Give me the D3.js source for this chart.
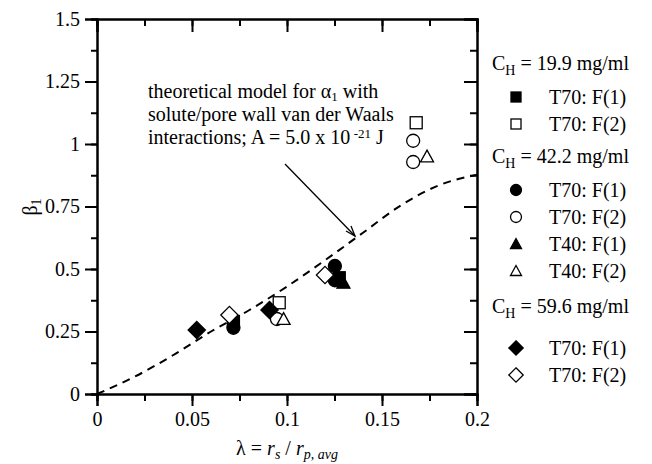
<!DOCTYPE html>
<html><head><meta charset="utf-8">
<script src="https://cdn.jsdelivr.net/npm/d3@7/dist/d3.min.js"></script>
<style>body{margin:0;background:#fff}svg{display:block}text{font-family:"Liberation Serif","Times New Roman",serif;fill:#000}</style>
</head><body><svg id="c" width="652" height="464"></svg>
<script>
// ---- data ----
const xTicks = [0, 0.05, 0.1, 0.15, 0.2];
const xTickLabels = ["0", "0.05", "0.1", "0.15", "0.2"];
const yTicks = [0, 0.25, 0.5, 0.75, 1, 1.25, 1.5];
const yTickLabels = ["0", "0.25", "0.5", "0.75", "1", "1.25", "1.5"];

const ch199_T70_F1 = [[0.0718, 0.29], [0.1275, 0.465]];
const ch199_T70_F2 = [[0.0959, 0.365], [0.168, 1.085]];
const ch422_T70_F1 = [[0.0718, 0.265], [0.1252, 0.512], [0.1252, 0.455]];
const ch422_T70_F2 = [[0.0947, 0.30], [0.1664, 1.013], [0.1664, 0.928]];
const ch422_T40_F1 = [[0.1297, 0.445]];
const ch422_T40_F2 = [[0.0982, 0.30], [0.1737, 0.95]];
const ch596_T70_F1 = [[0.0525, 0.256], [0.0908, 0.336]];
const ch596_T70_F2 = [[0.0697, 0.316], [0.120, 0.476]];

const modelLambda = [0, 0.02, 0.04, 0.06, 0.08, 0.10, 0.12, 0.14, 0.16, 0.18, 0.20];
const modelBeta   = [0, 0.07, 0.155, 0.25, 0.335, 0.43, 0.535, 0.645, 0.755, 0.835, 0.877];

const groupHeaders = ["19.9 mg/ml", "42.2 mg/ml", "59.6 mg/ml"];
const seriesLabels = ["T70: F(1)", "T70: F(2)", "T70: F(1)", "T70: F(2)", "T40: F(1)", "T40: F(2)", "T70: F(1)", "T70: F(2)"];
const seriesShapes = ["square", "square", "circle", "circle", "triangle", "triangle", "diamond", "diamond"];
const seriesFilled = [true, false, true, false, true, false, true, false];
const seriesGroup = [0, 0, 1, 1, 1, 1, 2, 2];
const seriesData = [ch199_T70_F1, ch199_T70_F2, ch422_T70_F1, ch422_T70_F2, ch422_T40_F1, ch422_T40_F2, ch596_T70_F1, ch596_T70_F2];

// ---- drawing ----
const svg = d3.select("#c");
svg.append("rect").attr("width", 652).attr("height", 464).attr("fill", "#fff");
const L = 97, R = 477, T = 19, B = 394;
const x = d3.scaleLinear().domain([0, 0.2]).range([L, R]);
const y = d3.scaleLinear().domain([0, 1.5]).range([B, T]);
const FS = 20;

const xMinor = d3.range(0, 0.2001, 0.025);
const yMinor = d3.range(0, 1.5001, 0.125);

// bottom axis (outward)
svg.append("g").attr("transform", `translate(0,${B})`)
  .call(d3.axisBottom(x).tickValues(xMinor).tickSize(7).tickFormat(""));
svg.append("g").attr("transform", `translate(0,${B})`)
  .call(d3.axisBottom(x).tickValues(xTicks).tickSize(12).tickPadding(6).tickFormat((d, i) => xTickLabels[i]));
// left axis (outward)
svg.append("g").attr("transform", `translate(${L},0)`)
  .call(d3.axisLeft(y).tickValues(yMinor).tickSize(6).tickFormat(""));
svg.append("g").attr("transform", `translate(${L},0)`)
  .call(d3.axisLeft(y).tickValues(yTicks).tickSize(12).tickPadding(5).tickFormat((d, i) => yTickLabels[i]));
// top axis (inward)
svg.append("g").attr("transform", `translate(0,${T})`)
  .call(d3.axisTop(x).tickValues(xMinor).tickSize(-7).tickFormat(""));
svg.append("g").attr("transform", `translate(0,${T})`)
  .call(d3.axisTop(x).tickValues(xTicks).tickSize(-13).tickFormat(""));
// right axis (inward)
svg.append("g").attr("transform", `translate(${R},0)`)
  .call(d3.axisRight(y).tickValues(yMinor).tickSize(-7).tickFormat(""));
svg.append("g").attr("transform", `translate(${R},0)`)
  .call(d3.axisRight(y).tickValues(yTicks).tickSize(-13).tickFormat(""));

svg.selectAll(".domain").attr("stroke", "#000").attr("stroke-width", 2);
svg.selectAll(".tick line").attr("stroke", "#000").attr("stroke-width", 2);
svg.selectAll(".tick text").attr("font-size", FS).attr("font-family", "Liberation Serif").attr("fill", "#000");

// model curve
const line = d3.line().x(d => x(d[0])).y(d => y(d[1])).curve(d3.curveMonotoneX);
svg.append("path").datum(modelLambda.map((l, i) => [l, modelBeta[i]]))
  .attr("d", line).attr("fill", "none").attr("stroke", "#000").attr("stroke-width", 2)
  .attr("stroke-dasharray", "8,6");

// markers
function drawMarker(g, shape, filled, cx, cy, s) {
  const fill = filled ? "#000" : "#fff";
  const sw = 1.3;
  if (shape === "square") {
    g.append("rect").attr("x", cx - s / 2).attr("y", cy - s / 2).attr("width", s).attr("height", s)
      .attr("fill", fill).attr("stroke", "#000").attr("stroke-width", sw);
  } else if (shape === "circle") {
    g.append("circle").attr("cx", cx).attr("cy", cy).attr("r", s / 2 + 0.5)
      .attr("fill", fill).attr("stroke", "#000").attr("stroke-width", sw);
  } else if (shape === "triangle") {
    const h = s * 0.9;
    g.append("path").attr("d", `M${cx},${cy - h / 2 - 1}L${cx + s / 2 + 0.5},${cy + h / 2}L${cx - s / 2 - 0.5},${cy + h / 2}Z`)
      .attr("fill", fill).attr("stroke", "#000").attr("stroke-width", sw);
  } else {
    const r = s * 0.72;
    g.append("path").attr("d", `M${cx},${cy - r}L${cx + r},${cy}L${cx},${cy + r}L${cx - r},${cy}Z`)
      .attr("fill", fill).attr("stroke", "#000").attr("stroke-width", sw);
  }
}
const gm = svg.append("g");
seriesData.forEach((ser, i) => {
  ser.forEach(d => drawMarker(gm, seriesShapes[i], seriesFilled[i], x(d[0]), y(d[1]), 12));
});

// annotation
const ann = svg.append("text").attr("x", 148).attr("y", 98).attr("font-size", FS);
ann.append("tspan").text("theoretical model for α");
ann.append("tspan").attr("dy", 3).attr("font-size", 13).text("1");
ann.append("tspan").attr("dy", -3).text(" with");
svg.append("text").attr("x", 148).attr("y", 121).attr("font-size", FS).text("solute/pore wall van der Waals");
const ann3 = svg.append("text").attr("x", 148).attr("y", 144).attr("font-size", FS);
ann3.append("tspan").text("interactions; A = 5.0 x 10");
ann3.append("tspan").attr("dy", -6).attr("font-size", 13).text(" -21");
ann3.append("tspan").attr("dy", 6).text(" J");

// arrow
svg.append("line").attr("x1", 285).attr("y1", 164).attr("x2", 355).attr("y2", 236)
  .attr("stroke", "#000").attr("stroke-width", 1.3);
svg.append("path").attr("d", "M346,231L355,236L351,226").attr("fill", "none").attr("stroke", "#000").attr("stroke-width", 1.3);

// axis titles
const yt = svg.append("text").attr("transform", "translate(37,207) rotate(-90)").attr("text-anchor", "middle").attr("font-size", FS);
yt.append("tspan").text("β");
yt.append("tspan").attr("dy", 4).attr("font-size", 14).text("1");

const xt = svg.append("text").attr("x", 287).attr("y", 455).attr("text-anchor", "middle").attr("font-size", FS);
xt.append("tspan").text("λ = ");
xt.append("tspan").attr("font-style", "italic").text("r");
xt.append("tspan").attr("font-style", "italic").attr("font-size", 14).attr("dy", 4).text("s");
xt.append("tspan").attr("dy", -4).text(" / ");
xt.append("tspan").attr("font-style", "italic").text("r");
xt.append("tspan").attr("font-style", "italic").attr("font-size", 14).attr("dy", 4).text("p, avg");

// legend
const headerY = [70, 163, 313];
const rowY = [97, 124, 190, 217, 244, 271, 348, 375];
const lg = svg.append("g");
groupHeaders.forEach((h, i) => {
  const t = lg.append("text").attr("x", 492).attr("y", headerY[i]).attr("font-size", FS);
  t.append("tspan").text("C");
  t.append("tspan").attr("dy", 5).attr("font-size", 14).text("H");
  t.append("tspan").attr("dy", -5).text(" = " + h);
});
seriesLabels.forEach((lab, i) => {
  drawMarker(lg, seriesShapes[i], seriesFilled[i], 516, rowY[i], 10);
  lg.append("text").attr("x", 549).attr("y", rowY[i] + 7).attr("font-size", FS).text(lab);
});
</script></body></html>
